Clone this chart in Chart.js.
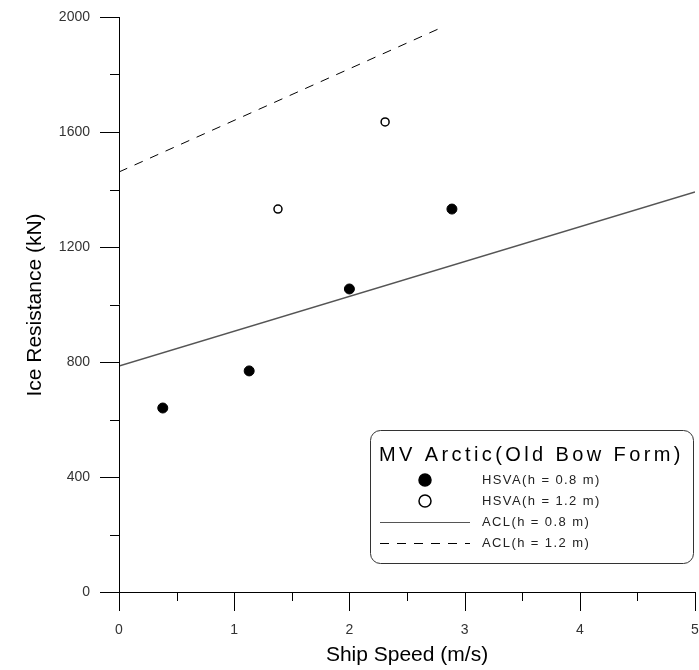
<!DOCTYPE html>
<html lang="en">
<head>
  <meta charset="UTF-8" />
  <title>Ice Resistance vs Ship Speed</title>
  <script src="https://cdn.jsdelivr.net/npm/chart.js"></script>
  <style>
    body { margin: 0; background: #fff; }
    #wrap { width: 699px; height: 670px; }
  </style>
</head>
<body>
  <div id="wrap"><canvas id="iceChart" width="699" height="670"></canvas></div>

  <script>
    // measured points (HSVA model tests)
    const hsva08Speed = [0.38, 1.13, 2.0, 2.89];
    const hsva08Res   = [640, 769, 1054, 1332];
    const hsva12Speed = [1.38, 2.31];
    const hsva12Res   = [1332, 1635];

    // ACL prediction lines
    const acl08Speed = [0, 5];
    const acl08Res   = [786, 1391];
    const acl12Speed = [0, 2.77];
    const acl12Res   = [1461, 1958];

    const xTicks = [0, 1, 2, 3, 4, 5];
    const yTicks = [0, 400, 800, 1200, 1600, 2000];

    const legendTitle = 'MV Arctic(Old Bow Form)';
    const FONT = '"Liberation Sans", Arial, sans-serif';

    const pts = (xs, ys) => xs.map((x, i) => ({ x: x, y: ys[i] }));

    // keep the plot box where the reference has it
    const fixScale = (s, size) => {
      if (s.isHorizontal()) s.height = size; else s.width = size;
      s.paddingLeft = s.paddingRight = s.paddingTop = s.paddingBottom = 0;
    };

    // axes, minor ticks, axis titles and the boxed legend
    const decor = {
      id: 'decor',
      afterDraw(chart) {
        const { ctx, chartArea: a, scales: { x, y } } = chart;
        ctx.save();
        ctx.strokeStyle = '#000';
        ctx.lineWidth = 1;
        ctx.beginPath();
        ctx.moveTo(a.left + 0.5, a.top);
        ctx.lineTo(a.left + 0.5, a.bottom);
        ctx.moveTo(a.left, a.bottom + 0.5);
        ctx.lineTo(a.right, a.bottom + 0.5);
        for (let v = 0; v <= 2000; v += 200) {
          const py = Math.round(y.getPixelForValue(v)) + 0.5;
          const len = v % 400 === 0 ? 19 : 9;
          ctx.moveTo(a.left - len, py);
          ctx.lineTo(a.left, py);
        }
        for (let v = 0; v <= 5; v += 0.5) {
          const px = Math.round(x.getPixelForValue(v)) + 0.5;
          const len = v % 1 === 0 ? 19 : 9;
          ctx.moveTo(px, a.bottom);
          ctx.lineTo(px, a.bottom + len);
        }
        ctx.stroke();

        // axis titles
        ctx.fillStyle = '#000';
        ctx.font = '21px ' + FONT;
        ctx.textAlign = 'center';
        ctx.textBaseline = 'middle';
        ctx.fillText('Ship Speed (m/s)', (a.left + a.right) / 2, 655);
        ctx.save();
        ctx.translate(35, 305);
        ctx.rotate(-Math.PI / 2);
        ctx.fillText('Ice Resistance (kN)', 0, 0);
        ctx.restore();

        // legend box
        const bx = 370, by = 430, bw = 323, bh = 133;
        ctx.beginPath();
        ctx.roundRect(bx + 0.5, by + 0.5, bw, bh, 10);
        ctx.fillStyle = '#fff';
        ctx.fill();
        ctx.strokeStyle = '#333';
        ctx.stroke();

        ctx.fillStyle = '#000';
        ctx.font = '20px ' + FONT;
        ctx.letterSpacing = '3.4px';
        ctx.textAlign = 'left';
        ctx.fillText(legendTitle, 379, 455);

        const rows = [480, 501, 522, 543];
        ctx.font = '13px ' + FONT;
        ctx.letterSpacing = '1.4px';
        ctx.fillStyle = '#222';
        chart.data.datasets.forEach((ds, i) => {
          const ry = rows[i];
          ctx.save();
          if (ds.showLine) {
            ctx.strokeStyle = ds.borderColor;
            ctx.lineWidth = 1;
            ctx.setLineDash(ds.borderDash || []);
            ctx.beginPath();
            ctx.moveTo(380, ry + 0.5);
            ctx.lineTo(470, ry + 0.5);
            ctx.stroke();
          } else {
            ctx.beginPath();
            ctx.arc(425, ry, 6, 0, Math.PI * 2);
            ctx.fillStyle = ds.pointBackgroundColor;
            ctx.fill();
            ctx.lineWidth = 1.5;
            ctx.strokeStyle = '#000';
            ctx.stroke();
          }
          ctx.restore();
          ctx.fillText(ds.label, 482, ry);
        });
        ctx.restore();
      }
    };

    new Chart(document.getElementById('iceChart'), {
      type: 'scatter',
      data: {
        datasets: [
          {
            label: 'HSVA(h = 0.8 m)',
            data: pts(hsva08Speed, hsva08Res),
            pointRadius: 5,
            pointBackgroundColor: '#000',
            pointBorderColor: '#000',
            showLine: false
          },
          {
            label: 'HSVA(h = 1.2 m)',
            data: pts(hsva12Speed, hsva12Res),
            pointRadius: 4,
            pointBorderWidth: 1.5,
            pointBackgroundColor: '#fff',
            pointBorderColor: '#000',
            showLine: false
          },
          {
            label: 'ACL(h = 0.8 m)',
            data: pts(acl08Speed, acl08Res),
            showLine: true,
            borderColor: '#555',
            borderWidth: 1.5,
            pointRadius: 0
          },
          {
            label: 'ACL(h = 1.2 m)',
            data: pts(acl12Speed, acl12Res),
            showLine: true,
            borderColor: '#000',
            borderWidth: 1,
            borderDash: [9, 8],
            pointRadius: 0
          }
        ]
      },
      options: {
        responsive: false,
        animation: false,
        layout: { autoPadding: false, padding: { left: 0, top: 17, right: 4, bottom: 0 } },
        plugins: { legend: { display: false }, tooltip: { enabled: false } },
        scales: {
          x: {
            type: 'linear',
            min: 0,
            max: 5,
            afterBuildTicks: s => { s.ticks = xTicks.map(v => ({ value: v })); },
            afterFit: s => fixScale(s, 78),
            grid: { display: false, drawTicks: false },
            border: { display: false },
            ticks: { color: '#333', font: { family: FONT, size: 14 }, padding: 30, maxRotation: 0, callback: v => String(v) }
          },
          y: {
            type: 'linear',
            min: 0,
            max: 2000,
            afterBuildTicks: s => { s.ticks = yTicks.map(v => ({ value: v })); },
            afterFit: s => fixScale(s, 119),
            grid: { display: false, drawTicks: false },
            border: { display: false },
            ticks: { color: '#333', font: { family: FONT, size: 14 }, padding: 29, callback: v => String(v) }
          }
        }
      },
      plugins: [decor]
    });
  </script>
</body>
</html>
